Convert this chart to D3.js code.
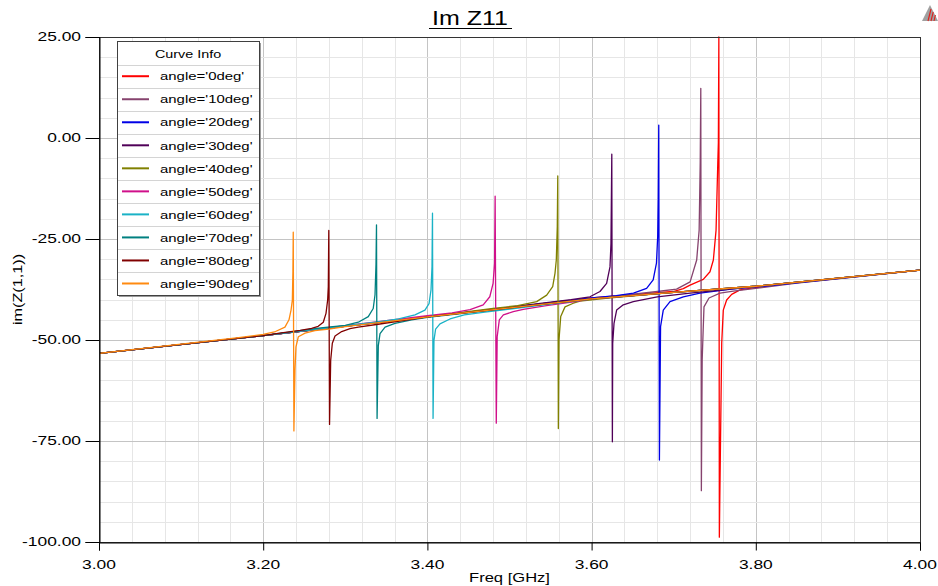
<!DOCTYPE html>
<html>
<head>
<meta charset="utf-8">
<script src="https://cdn.jsdelivr.net/npm/d3@7"></script>
<style>
  html, body { margin: 0; padding: 0; background: #fff; }
  svg { display: block; font-family: "Liberation Sans", Arial, sans-serif; }
</style>
</head>
<body>
<svg id="chart" width="938" height="586"></svg>
<script>
// ---- tick labels ----
const xTickLabels = ["3.00", "3.20", "3.40", "3.60", "3.80", "4.00"];
const yTickLabels = ["25.00", "0.00", "-25.00", "-50.00", "-75.00", "-100.00"];

// ---- series ----
const seriesNames = ["angle='0deg'", "angle='10deg'", "angle='20deg'", "angle='30deg'", "angle='40deg'",
                     "angle='50deg'", "angle='60deg'", "angle='70deg'", "angle='80deg'", "angle='90deg'"];
const seriesColors = ["#ff0000", "#86436e", "#0000e6", "#500058", "#808000",
                      "#d0108a", "#1ab2c6", "#008080", "#800000", "#ff8a10"];

// common background trend of im(Z(1,1)) [freq GHz, value]
const baseline = [[3.00, -53.3], [3.20, -48.9], [3.40, -44.3], [3.60, -39.8],
                  [3.70, -38.2], [3.80, -36.7], [4.00, -32.7]];

// resonance samples of each curve [freq GHz, value]
const res0deg = [[3.600, -39.6], [3.650, -38.8], [3.6995, -38.0], [3.7117, -37.3], [3.7199, -36.4],
  [3.736, -35.0], [3.7442, -33.1], [3.7483, -30.2], [3.7516, -22.8], [3.7537, -6.2], [3.7544, -1.2],
  [3.7550, 25.0], [3.7556, -98.8], [3.7585, -50.7], [3.7604, -42.6], [3.7645, -40.1], [3.7706, -38.7],
  [3.7807, -37.6], [3.8011, -37.0], [3.850, -35.8]];
const res10deg = [[3.640, -38.9], [3.680, -38.0], [3.7035, -37.4], [3.720, -35.6], [3.728, -30.2],
  [3.731, -22.8], [3.7323, -6.2], [3.7330, 12.3], [3.7337, -87.3], [3.7347, -54.9], [3.7359, -47.5],
  [3.7369, -41.8], [3.743, -39.6], [3.7564, -38.4], [3.7726, -37.9], [3.800, -37.2], [3.850, -35.9]];
const res20deg = [[3.600, -39.6], [3.630, -39.0], [3.651, -38.4], [3.667, -37.2], [3.675, -35.1],
  [3.679, -31.0], [3.6805, -24.4], [3.6812, -14.5], [3.6818, 3.2], [3.6826, -79.7], [3.684, -46.7],
  [3.6873, -42.6], [3.6955, -40.5], [3.7117, -39.3], [3.732, -38.4], [3.770, -37.4], [3.820, -36.5]];
const res30deg = [[3.540, -40.9], [3.575, -40.0], [3.598, -39.3], [3.6102, -38.0], [3.6183, -36.0],
  [3.6224, -31.9], [3.6236, -26.1], [3.6246, -4.0], [3.6253, -75.2], [3.6257, -50.8], [3.6273, -45.9],
  [3.6305, -42.6], [3.6386, -41.3], [3.6508, -40.5], [3.680, -39.3], [3.720, -38.4], [3.760, -37.6]];
const res40deg = [[3.480, -42.2], [3.510, -41.5], [3.5331, -40.5], [3.5453, -38.9], [3.5526, -36.8],
  [3.5554, -33.5], [3.557, -30.2], [3.5582, -22.0], [3.5588, -9.4], [3.5595, -71.9], [3.5603, -50.0],
  [3.5624, -44.2], [3.5676, -41.8], [3.5777, -40.9], [3.5859, -40.4], [3.620, -39.6]];
const res50deg = [[3.400, -44.0], [3.430, -43.3], [3.452, -42.5], [3.468, -41.3], [3.476, -39.3],
  [3.480, -36.0], [3.4818, -31.0], [3.4825, -14.4], [3.4839, -70.6], [3.485, -49.2], [3.4876, -45.0],
  [3.4925, -43.8], [3.5046, -43.0], [3.5168, -42.4], [3.545, -41.5], [3.580, -40.5]];
const res60deg = [[3.340, -45.5], [3.365, -44.8], [3.3849, -43.8], [3.397, -42.6], [3.402, -41.0],
  [3.4044, -37.6], [3.4056, -31.9], [3.4062, -18.6], [3.4069, -69.4], [3.408, -50.1], [3.410, -47.3],
  [3.4153, -46.0], [3.4275, -44.8], [3.445, -43.8], [3.470, -43.1]];
const res70deg = [[3.270, -47.0], [3.300, -46.4], [3.3158, -45.6], [3.328, -44.2], [3.334, -42.2],
  [3.3362, -38.8], [3.3374, -31.2], [3.3380, -21.5], [3.3387, -69.4], [3.3402, -51.4], [3.3423, -48.4],
  [3.3484, -46.8], [3.3605, -45.9], [3.3808, -45.0], [3.400, -44.4]];
const res80deg = [[3.220, -48.3], [3.245, -47.6], [3.259, -47.1], [3.267, -46.6], [3.2732, -45.6],
  [3.2765, -43.4], [3.2785, -40.1], [3.2793, -36.8], [3.2799, -22.9], [3.2808, -70.9], [3.2822, -55.0],
  [3.2842, -50.8], [3.2875, -49.0], [3.2956, -47.9], [3.3057, -47.2], [3.3158, -46.8], [3.340, -46.1],
  [3.370, -45.2]];
const res90deg = [[3.170, -49.4], [3.200, -48.6], [3.215, -47.9], [3.2265, -46.8], [3.2314, -45.0],
  [3.2339, -42.6], [3.2355, -40.1], [3.2362, -33.0], [3.2366, -23.3], [3.2374, -72.5], [3.2387, -57.4],
  [3.2399, -51.7], [3.2428, -49.2], [3.251, -48.3], [3.263, -47.7], [3.280, -47.3], [3.300, -46.7]];

const resonances = [res0deg, res10deg, res20deg, res30deg, res40deg,
                    res50deg, res60deg, res70deg, res80deg, res90deg];

// ---- layout ----
const svg = d3.select("#chart");
const plot = { left: 99, right: 920, top: 37, bottom: 542 };
const x = d3.scaleLinear().domain([3, 4]).range([plot.left, plot.right]);
const y = d3.scaleLinear().domain([-100, 25]).range([plot.bottom, plot.top]);

const TEXT = "#000";
function wideText(g, str, px, py, size, sx, anchor, rotate) {
  return g.append("text")
    .attr("transform", `translate(${px},${py})` + (rotate ? ` rotate(${rotate})` : "") + ` scale(${sx},1)`)
    .attr("text-anchor", anchor)
    .attr("font-size", size)
    .attr("fill", TEXT)
    .text(str);
}

// ---- grid ----
const grid = svg.append("g");
const xMinor = d3.range(0, 26).map(i => 3 + i * 0.04);
const yMinor = d3.range(0, 26).map(i => -100 + i * 5);
grid.selectAll(".vx").data(xMinor).join("line")
  .attr("x1", d => Math.round(x(d)) + 0.5).attr("x2", d => Math.round(x(d)) + 0.5)
  .attr("y1", plot.top).attr("y2", plot.bottom)
  .attr("stroke", (d, i) => i % 5 === 0 ? "#c4c4c4" : "#e6e6e6").attr("stroke-width", 1);
grid.selectAll(".hy").data(yMinor).join("line")
  .attr("y1", d => Math.round(y(d)) + 0.5).attr("y2", d => Math.round(y(d)) + 0.5)
  .attr("x1", plot.left).attr("x2", plot.right)
  .attr("stroke", (d, i) => i % 5 === 0 ? "#c4c4c4" : "#e6e6e6").attr("stroke-width", 1);

// ---- curves ----
const clip = svg.append("clipPath").attr("id", "plotClip").append("rect")
  .attr("x", plot.left).attr("y", plot.top - 1)
  .attr("width", plot.right - plot.left).attr("height", plot.bottom - plot.top + 1);

const line = d3.line().x(d => x(d[0])).y(d => y(d[1]));
const curves = svg.append("g").attr("clip-path", "url(#plotClip)");
resonances.forEach((res, i) => {
  const lo = res[0][0], hi = res[res.length - 1][0];
  const pts = baseline.filter(p => p[0] < lo || p[0] > hi).concat(res)
    .sort((a, b) => a[0] - b[0]);
  curves.append("path")
    .attr("d", line(pts))
    .attr("fill", "none")
    .attr("stroke", seriesColors[i])
    .attr("stroke-width", 1.3)
    .attr("stroke-linejoin", "round");
});

// ---- frame & axes ----
svg.append("rect")
  .attr("x", plot.left + 0.5).attr("y", plot.top + 0.5)
  .attr("width", plot.right - plot.left).attr("height", plot.bottom - plot.top)
  .attr("fill", "none").attr("stroke", "#333").attr("stroke-width", 1);

const axisY = svg.append("g").attr("transform", `translate(${plot.left + 0.5},0)`);
axisY.call(d3.axisLeft(y).tickValues(yMinor).tickSize(8).tickFormat(""));
axisY.call(d3.axisLeft(y).tickValues(yTickLabels.map(Number)).tickSize(14).tickFormat(""));
axisY.selectAll("path.domain").attr("stroke", "#000");
axisY.selectAll("line").attr("stroke", "#000");

const axisX = svg.append("g").attr("transform", `translate(0,${plot.bottom + 0.5})`);
axisX.call(d3.axisBottom(x).tickValues(xMinor).tickSize(5).tickFormat(""));
axisX.call(d3.axisBottom(x).tickValues(xTickLabels.map(Number)).tickSize(8).tickFormat(""));
axisX.selectAll("path.domain").attr("stroke", "#000");
axisX.selectAll("line").attr("stroke", "#000");

// tick labels
const labels = svg.append("g");
yTickLabels.forEach(t => wideText(labels, t, 81, y(+t) + 4.3, 12, 1.45, "end"));
xTickLabels.forEach(t => wideText(labels, t, x(+t), 569, 12, 1.45, "middle"));

// axis titles
wideText(labels, "Freq [GHz]", (plot.left + plot.right) / 2, 582, 12, 1.38, "middle");
wideText(labels, "im(Z(1,1))", 22, (plot.top + plot.bottom) / 2, 12, 1.35, "middle", -90);

// chart title
const title = wideText(labels, "Im Z11", 470, 25, 20, 1.25, "middle");
svg.append("line").attr("x1", 429).attr("x2", 512).attr("y1", 28.5).attr("y2", 28.5)
  .attr("stroke", "#000").attr("stroke-width", 1.2);

// corner logo
const logo = svg.append("g");
logo.append("path").attr("d", "M922,21 L930,5 L938,21 Z").attr("fill", "#a0a0a0");
[0, 1, 2].forEach(k => logo.append("line")
  .attr("x1", 928 + k * 3).attr("y1", 21).attr("x2", 931 + k * 2.2).attr("y2", 9 + k * 3)
  .attr("stroke", "#e0201c").attr("stroke-width", 1.1));

// ---- legend ----
const lg = { x: 117, y: 41, w: 142, head: 23.7, row: 23.03 };
const legend = svg.append("g");
const lgH = lg.head + lg.row * seriesNames.length;
legend.append("rect").attr("x", lg.x + 2).attr("y", lg.y + 2).attr("width", lg.w).attr("height", lgH)
  .attr("fill", "#9a9a9a");
legend.append("rect").attr("x", lg.x + 0.5).attr("y", lg.y + 0.5).attr("width", lg.w).attr("height", lgH)
  .attr("fill", "#fff").attr("stroke", "#404040").attr("stroke-width", 1);
wideText(legend, "Curve Info", lg.x + lg.w / 2, lg.y + 17, 11.5, 1.25, "middle");
seriesNames.forEach((name, i) => {
  const top = lg.y + lg.head + i * lg.row;
  legend.append("line").attr("x1", lg.x + 1).attr("x2", lg.x + lg.w)
    .attr("y1", Math.round(top) + 0.5).attr("y2", Math.round(top) + 0.5)
    .attr("stroke", "#d4d4d4");
  const cy = top + lg.row / 2;
  legend.append("line").attr("x1", 122).attr("x2", 149)
    .attr("y1", cy).attr("y2", cy)
    .attr("stroke", seriesColors[i]).attr("stroke-width", 2);
  wideText(legend, name, 160, cy + 4.2, 11.5, 1.3, "start");
});
</script>
</body>
</html>
